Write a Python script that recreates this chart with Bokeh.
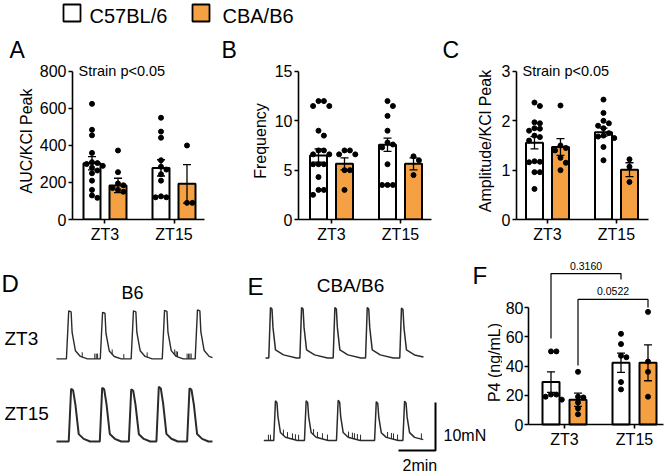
import numpy as np
from bokeh.plotting import figure
from bokeh.layouts import column, row
from bokeh.models import Range1d, FixedTicker, Label
from bokeh.embed import file_html
from bokeh.resources import INLINE
from bokeh.core.properties import value

FONT = "Liberation Sans"
ORANGE = "#F5A043"

groups = ["ZT3", "ZT15"]
strains = ["C57BL/6", "CBA/B6"]

# ---------------- Panel A : AUC/KCl Peak ----------------
auc_zt3_c57 = [625, 485, 455, 360, 310, 305, 300, 290, 280, 265, 250, 210, 160, 130, 117]
auc_zt3_cba = [373, 256, 195, 185, 170, 160, 150]
auc_zt15_c57 = [550, 475, 442, 320, 285, 270, 245, 210, 125, 120, 120]
auc_zt15_cba = [400, 90, 90]
auc_mean_c57 = [304, 279]
auc_sem_c57 = [36, 44]
auc_mean_cba = [184, 193]
auc_sem_cba = [39, 104]

# ---------------- Panel B : Frequency ----------------
freq_zt3_c57 = [12, 12, 11.5, 11.5, 9, 8.5, 7, 7, 6.6, 6.6, 5.6, 5.6, 5.6, 4.3, 3, 3, 2.5]
freq_zt3_cba = [7, 7, 6.6, 6.6, 5, 5, 3]
freq_zt15_c57 = [12, 11.5, 10.5, 9, 7.8, 7.6, 7.3, 5.6, 3.5, 3.5, 3.5]
freq_zt15_cba = [6.4, 6.0, 4.5]
freq_mean_c57 = [6.49, 7.57]
freq_sem_c57 = [0.67, 0.67]
freq_mean_cba = [5.64, 5.64]
freq_sem_cba = [0.61, 0.61]

# ---------------- Panel C : Amplitude/KCl Peak ----------------
amp_zt3_c57 = [2.37, 2.30, 1.97, 1.95, 1.85, 1.84, 1.80, 1.70, 1.67, 1.60, 1.18, 1.17, 1.16, 0.96, 0.96, 0.62]
amp_zt3_cba = [2.31, 1.50, 1.45, 1.40, 1.25, 1.15, 1.0]
amp_zt15_c57 = [2.43, 2.16, 2.0, 1.95, 1.9, 1.85, 1.75, 1.7, 1.68, 1.65, 1.47, 1.2]
amp_zt15_cba = [1.22, 1.07, 0.76]
amp_mean_c57 = [1.555, 1.77]
amp_sem_c57 = [0.125, 0.08]
amp_mean_cba = [1.47, 1.01]
amp_sem_cba = [0.17, 0.14]

# ---------------- Panel F : P4 (ng/mL) ----------------
p4_zt3_c57 = [50, 50, 20.5, 20.5, 19, 17]
p4_zt3_cba = [36, 19, 18.5, 15, 11, 7]
p4_zt15_c57 = [62, 55, 47, 46, 29, 24]
p4_zt15_cba = [77, 43, 36, 19]
p4_mean_c57 = [29, 42.2]
p4_sem_c57 = [7, 6.6]
p4_mean_cba = [16.9, 42.2]
p4_sem_cba = [4.5, 12.3]
p4_pvalues = ["0.3160", "0.0522"]

# ---------------- Panels D/E : force traces (minutes, mN) ----------------
trace_b6_zt3_peaks = [0.66, 2.49, 4.16, 5.84, 7.62]
trace_b6_zt3_amps = [10.0, 9.7, 10.0, 10.1, 10.2]
trace_b6_zt3_spikes = [1.39, 2.07, 2.15, 2.22, 3.01, 3.64, 4.90, 6.39, 6.47, 6.54, 7.06, 7.14, 7.21, 7.28]
trace_b6_zt3_spike_h = [1.0, 1.1, 1.1, 1.1, 1.0, 1.0, 1.0, 1.1, 1.1, 1.1, 1.1, 1.1, 1.1, 1.1]
trace_b6_zt15_peaks = [0.79, 2.47, 4.04, 5.53, 7.19]
trace_b6_zt15_amps = [11.0, 11.2, 10.9, 11.4, 11.1]
trace_cba_zt3_peaks = [0.27, 1.95, 3.75, 5.50, 7.35]
trace_cba_zt3_amps = [10.5, 10.5, 10.5, 10.5, 10.4]
trace_cba_zt15_peaks = [0.63, 2.29, 4.02, 6.08, 7.61]
trace_cba_zt15_amps = [8.3, 8.3, 8.4, 8.1, 8.2]
trace_cba_zt15_spikes = [0.25, 0.36, 1.06, 1.28, 1.55, 1.71, 1.88, 2.69, 2.90, 3.17, 3.44,
                         4.58, 4.79, 4.90, 5.06, 5.23, 6.69, 6.90, 7.01, 7.23, 8.52]
trace_cba_zt15_spike_h = [1.2] * 21
# contraction shapes: time from peak (min) and fraction of amplitude
shape_b6_zt3_dt = [-0.124, 0, 0.130, 0.184, 0.362, 0.632, 1.011]
shape_b6_zt3_f = [0, 1, 0.98, 0.55, 0.17, 0.05, 0]
shape_b6_zt15_dt = [-0.130, 0, 0.108, 0.232, 0.411, 0.681, 1.027]
shape_b6_zt15_f = [0, 1, 0.97, 0.7, 0.14, 0.05, 0]
shape_cba_zt3_dt = [-0.092, 0, 0.081, 0.135, 0.270, 0.703, 1.405]
shape_cba_zt3_f = [0, 1, 0.97, 0.6, 0.16, 0.06, 0]
shape_cba_zt15_dt = [-0.092, 0, 0.081, 0.135, 0.270, 0.540, 1.19]
shape_cba_zt15_f = [0, 1, 0.95, 0.6, 0.2, 0.08, 0]
scale_min = 2
scale_mN = 10


def swarm(vals, pxx, pxy, d=5.4):
    vals = np.asarray(vals, dtype=float)
    order = np.argsort(-vals, kind="stable")
    placed = []
    offs = np.zeros(len(vals))
    cands = [0, d, -d, 2 * d, -2 * d, 3 * d, -3 * d]
    for i in order:
        y = vals[i] * pxy
        chosen = cands[-1]
        for c in cands:
            if all((c - px) ** 2 + (y - py) ** 2 >= (d * 0.95) ** 2 for px, py in placed):
                chosen = c
                break
        placed.append((chosen, y))
        offs[i] = chosen / pxx
    return offs


def draw_bars(p, pxx, pxy, pts, means, sems, off_px=13):
    bw = 17 / pxx
    off = off_px / pxx
    cap = 4 / pxx
    fills = ["white", ORANGE]
    for si in range(2):
        xs = [gi + (off if si else -off) for gi in range(2)]
        m = np.array(means[si], dtype=float)
        s = np.array(sems[si], dtype=float)
        p.vbar(x=xs, top=m, width=bw, bottom=0, fill_color=fills[si],
               line_color="black", line_width=2)
        p.segment(x0=xs, y0=m - s, x1=xs, y1=m + s, line_color="black", line_width=1.3)
        xa = np.array(xs)
        p.segment(x0=xa - cap, y0=m + s, x1=xa + cap, y1=m + s, line_color="black", line_width=1.3)
        p.segment(x0=xa - cap, y0=m - s, x1=xa + cap, y1=m - s, line_color="black", line_width=1.3)
        for gi in range(2):
            v = pts[si][gi]
            o = swarm(v, pxx, pxy)
            p.scatter(x=xs[gi] + o, y=v, size=5, color="black")


def style_axes(p, yticks):
    p.xaxis.ticker = FixedTicker(ticks=[0, 1])
    p.xaxis.major_label_overrides = {0: groups[0], 1: groups[1]}
    p.yaxis.ticker = FixedTicker(ticks=yticks)
    p.yaxis.bounds = (0, yticks[-1])
    for ax in (p.xaxis[0], p.yaxis[0]):
        ax.axis_line_width = 1.6
        ax.axis_line_color = "black"
        ax.major_tick_line_width = 1.6
        ax.major_tick_line_color = "black"
        ax.major_tick_in = 0
        ax.major_tick_out = 4
        ax.minor_tick_line_color = None
        ax.major_label_text_font = FONT
        ax.major_label_text_font_size = "16px"
        ax.major_label_text_color = "black"
        ax.axis_label_text_font = FONT
        ax.axis_label_text_font_size = "16px"
        ax.axis_label_text_font_style = "normal"
        ax.axis_label_text_color = "black"
    p.xaxis.major_label_standoff = 2
    p.yaxis.major_label_standoff = 2


def make_panel(w, h, borders, xr, ytop, yticks, ylabel, ystand, pts, means, sems):
    l, r, t, b = borders
    p = figure(width=w, height=h, output_backend="svg", toolbar_location=None,
               x_range=Range1d(*xr), y_range=Range1d(0, ytop),
               min_border_left=l, min_border_right=r, min_border_top=t, min_border_bottom=b)
    p.outline_line_color = None
    p.grid.visible = False
    pxx = (w - l - r) / (xr[1] - xr[0])
    pxy = (h - t - b) / ytop
    draw_bars(p, pxx, pxy, pts, means, sems)
    style_axes(p, yticks)
    p.yaxis.axis_label = ylabel
    p.yaxis.axis_label_standoff = ystand
    return p


def add_label(p, text, x, y, size, align="left", baseline="middle"):
    p.add_layout(Label(x=x, y=y, x_units="screen", y_units="screen", text=text,
                       text_font=FONT, text_font_size=size, text_align=align,
                       text_baseline=baseline, text_color="black"))


# ---------------- Legend strip + panel letters A, B, C ----------------
TOPH = 62
leg = figure(width=666, height=TOPH, output_backend="svg", toolbar_location=None,
             x_range=Range1d(0, 666), y_range=Range1d(0, TOPH),
             x_axis_type=None, y_axis_type=None, min_border=0)
leg.outline_line_color = None
leg.rect(x=[71.5, 200.5], y=[TOPH - 12.5] * 2, width=17, height=17,
         fill_color=["white", ORANGE], line_color="black", line_width=1.8)
leg.text(x=[89, 222], y=[TOPH - 15.5] * 2, text=strains, text_font=value(FONT),
         text_font_size="20px", text_baseline="middle", text_align="left", text_color="black")
leg.text(x=[9, 221, 442], y=[TOPH - 49] * 3, text=["A", "B", "C"], text_font=value(FONT),
         text_font_size="23px", text_baseline="middle", text_align="left", text_color="black")

# ---------------- Panels A, B, C ----------------
PH = 255 - TOPH
pA = make_panel(220, PH, (72, 16, 0, 36), (-0.471, 1.442), 848.6, [0, 200, 400, 600, 800],
                "AUC/KCl Peak", 2,
                [[auc_zt3_c57, auc_zt15_c57], [auc_zt3_cba, auc_zt15_cba]],
                [auc_mean_c57, auc_mean_cba], [auc_sem_c57, auc_sem_cba])
add_label(pA, "Strain p<0.05", 6, 148.5, "14.5px")

pB = make_panel(220, PH, (78, 9, 0, 36), (-0.478, 1.449), 15.91, [0, 5, 10, 15],
                "Frequency", 3,
                [[freq_zt3_c57, freq_zt15_c57], [freq_zt3_cba, freq_zt15_cba]],
                [freq_mean_c57, freq_mean_cba], [freq_sem_c57, freq_sem_cba])

pC = make_panel(226, PH, (76, 18, 0, 36), (-0.449, 1.464), 3.182, [0, 1, 2, 3],
                "Amplitude/KCl Peak", 5,
                [[amp_zt3_c57, amp_zt15_c57], [amp_zt3_cba, amp_zt15_cba]],
                [amp_mean_c57, amp_mean_cba], [amp_sem_c57, amp_sem_cba])
add_label(pC, "Strain p<0.05", 6, 148.5, "14.5px")

# ---------------- Panel F (frame fills its canvas; axes pinned inside) ----------------
FW = 164
DEW = 666 - FW
FPX = 70.0        # px per category unit
FPY = 1.4625      # px per ng/mL
F_X0 = 502        # canvas left (page px)
F_CAT0 = 564      # page x of ZT3 centre
F_Y0 = 424        # page y of value 0
pF = figure(width=FW, height=220, output_backend="svg", toolbar_location=None,
            x_range=Range1d((F_X0 - F_CAT0) / FPX, (F_X0 + FW - F_CAT0) / FPX),
            y_range=Range1d(-(475 - F_Y0) / FPY, (F_Y0 - 255) / FPY),
            min_border=0)
pF.outline_line_color = None
pF.grid.visible = False
draw_bars(pF, FPX, FPY,
          [[p4_zt3_c57, p4_zt15_c57], [p4_zt3_cba, p4_zt15_cba]],
          [p4_mean_c57, p4_mean_cba], [p4_sem_c57, p4_sem_cba], off_px=13.5)
style_axes(pF, [0, 20, 40, 60, 80])
f_axis_x = (528 - F_CAT0) / FPX
pF.yaxis.fixed_location = f_axis_x
pF.xaxis.fixed_location = 0
pF.xaxis.bounds = (f_axis_x, (663 - F_CAT0) / FPX)
pF.yaxis.major_label_standoff = 1
offF = 13.5 / FPX
# brackets: (x left, x right, y bar, y left foot, y right foot, text y)
brk = [(0 - offF, 1 - offF, 103.2, 58.8, 99.1, 108.2),
       (0 + offF, 1 + offF, 85.5, 40.3, 80.0, 91.6)]
for (xl, xr_, yb, yl, yr, ty), pv in zip(brk, p4_pvalues):
    pF.line(x=[xl, xl, xr_, xr_], y=[yl, yb, yb, yr], line_color="black", line_width=1.2)
    pF.text(x=[(xl + xr_) / 2], y=[ty], text=[pv], text_font=value(FONT), text_font_size="10.5px",
            text_align="center", text_baseline="middle", text_color="black")

# ---------------- Panels D/E traces ----------------
PXM = 18.5   # px per minute
PXN = 4.8    # px per mN
de = figure(width=DEW, height=220, output_backend="svg", toolbar_location=None,
            x_range=Range1d(0, DEW / PXM), y_range=Range1d(0, 220 / PXN),
            x_axis_type=None, y_axis_type=None, min_border=0)
de.outline_line_color = None


def trace_xy(peaks, amps, sdt, sf, length):
    xs = [0.0]
    ys = [0.0]
    for pk, a in zip(peaks, amps):
        for d, f in zip(sdt, sf):
            xs.append(pk + d)
            ys.append(a * f)
    xs.append(max(length, xs[-1] + 0.01))
    ys.append(0.0)
    xs = np.array(xs)
    ys = np.array(ys)
    end = np.interp(length, xs, ys)
    keep = xs < length
    return np.append(xs[keep], length), np.append(ys[keep], end), (xs, ys)


traces = [
    (trace_b6_zt3_peaks, trace_b6_zt3_amps, shape_b6_zt3_dt, shape_b6_zt3_f, 8.43, 56 / PXM, 24.3,
     trace_b6_zt3_spikes, trace_b6_zt3_spike_h, 1.4),
    (trace_b6_zt15_peaks, trace_b6_zt15_amps, shape_b6_zt15_dt, shape_b6_zt15_f, 8.43, 56 / PXM, 7.08,
     [], [], 2.0),
    (trace_cba_zt3_peaks, trace_cba_zt3_amps, shape_cba_zt3_dt, shape_cba_zt3_f, 8.54, 265 / PXM, 24.5,
     [], [], 1.5),
    (trace_cba_zt15_peaks, trace_cba_zt15_amps, shape_cba_zt15_dt, shape_cba_zt15_f, 8.62, 263.3 / PXM, 7.29,
     trace_cba_zt15_spikes, trace_cba_zt15_spike_h, 1.5),
]
for pk, am, sdt, sf, ln, x0, base, sp, sph, lw in traces:
    xs, ys, full = trace_xy(pk, am, sdt, sf, ln)
    de.line(x=xs + x0, y=ys + base, line_color="#2b2b2b", line_width=lw)
    if sp:
        sp = np.array(sp)
        b0 = np.interp(sp, full[0], full[1]) + base
        de.segment(x0=sp + x0, y0=b0, x1=sp + x0, y1=b0 + np.array(sph),
                   line_color="#2b2b2b", line_width=1)

# scale bar
sbx = 435 / PXM
sby = (475 - 450) / PXN
de.line(x=[sbx - scale_min, sbx, sbx], y=[sby, sby, sby + scale_mN], line_color="black", line_width=2)

txt = [("D", 1, 283, "24px", "left"), ("E", 247, 285.5, "24px", "left"),
       ("F", 472, 275, "24px", "left"),
       ("B6", 132, 292, "18px", "center"), ("CBA/B6", 350, 285, "19px", "center"),
       ("ZT3", 4, 338, "19px", "left"), ("ZT15", 4, 413, "19px", "left"),
       ("2min", 402, 465, "16px", "left"), ("10mN", 443, 435, "16px", "left")]
for t, gx, gy, fs, al in txt:
    de.text(x=[gx / PXM], y=[(475 - gy) / PXN], text=[t], text_font=value(FONT), text_font_size=fs,
            text_align=al, text_baseline="middle", text_color="black")
# y-axis title of panel F (drawn beside F's axis)
de.text(x=[493.5 / PXM], y=[(475 - 362) / PXN], text=["P4 (ng/mL)"], text_font=value(FONT),
        text_font_size="16px", text_align="center", text_baseline="middle", angle=np.pi / 2,
        text_color="black")

layout = column(leg, row(pA, pB, pC), row(de, pF))
open("out.html", "w").write(file_html(layout, INLINE))
